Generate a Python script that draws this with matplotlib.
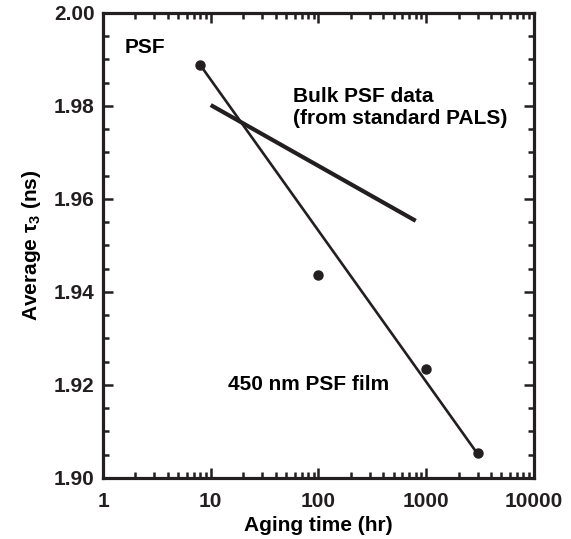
import numpy as np
import matplotlib.pyplot as plt
from matplotlib.ticker import LogLocator, MultipleLocator, FixedLocator

plt.rcParams['font.family'] = ['Liberation Sans', 'DejaVu Sans']
plt.rcParams['font.weight'] = 'bold'
plt.rcParams['mathtext.fontset'] = 'custom'
plt.rcParams['mathtext.rm'] = 'Liberation Sans:bold'
plt.rcParams['mathtext.it'] = 'Liberation Sans:bold'
plt.rcParams['mathtext.bf'] = 'Liberation Sans:bold'

# Datos
aging_time = [8, 100, 1000, 3000]
tau3 = [1.9888, 1.9437, 1.9234, 1.9054]

fit_time = [8, 3000]
fit_tau3 = [1.9888, 1.9052]

bulk_time = [10, 800]
bulk_tau3 = [1.9802, 1.9553]

fs = 15

fig = plt.figure(figsize=(5.71, 5.39), dpi=100)
ax = fig.add_axes([0.1804, 0.1132, 0.7546, 0.8627])

ax.plot(fit_time, fit_tau3, color='#231f20', lw=1.9, solid_capstyle='butt')
ax.plot(bulk_time, bulk_tau3, color='#231f20', lw=3.0, solid_capstyle='butt')
ax.plot(aging_time, tau3, 'o', color='#231f20', ms=6.5)

ax.set_xscale('log')
ax.set_xlim(1, 10000)
ax.set_ylim(1.90, 2.00)
ax.xaxis.set_major_locator(FixedLocator([1, 10, 100, 1000, 10000]))
ax.xaxis.set_minor_locator(LogLocator(base=10, subs=np.arange(2, 10), numticks=20))
ax.set_xticklabels(['1', '10', '100', '1000', '10000'])
ax.yaxis.set_major_locator(MultipleLocator(0.02))
ax.yaxis.set_minor_locator(MultipleLocator(0.005))
ax.set_yticklabels([f"{v:.2f}" for v in ax.get_yticks()])

for s in ax.spines.values():
    s.set_linewidth(2.3)
    s.set_color('#231f20')
ax.tick_params(which='major', direction='in', length=7, width=1.8,
               top=True, right=True, labelsize=fs, pad=6, colors='#231f20')
ax.tick_params(which='minor', direction='in', length=4, width=1.8,
               top=True, right=True, colors='#231f20')
ax.tick_params(axis='x', which='major', pad=10)

ax.set_xlabel("Aging time (hr)", fontsize=fs, fontweight='bold', labelpad=4)
ax.set_ylabel("Average τ$_3$ (ns)", fontsize=fs, fontweight='bold', labelpad=8)

ax.text(1.6, 1.9925, "PSF", fontsize=fs, fontweight='bold', va='center')
ax.text(58, 1.9796, "Bulk PSF data\n(from standard PALS)", fontsize=fs,
        fontweight='bold', va='center', linespacing=1.2)
ax.text(14.5, 1.920, "450 nm PSF film", fontsize=fs, fontweight='bold', va='center')

plt.savefig("out.png", dpi=100)
